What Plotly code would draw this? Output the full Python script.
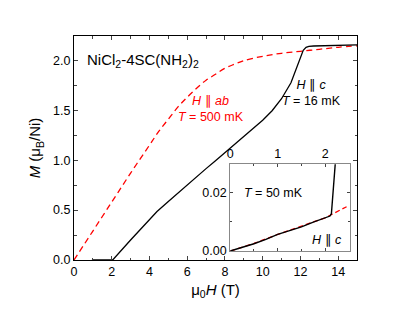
import plotly.graph_objects as go

# Main panel: H || c, T = 16 mK (black solid)
hc_field = [0.95, 2.05, 3.0, 4.0, 4.4, 5.0, 5.5, 6.0, 6.5, 7.0, 7.5, 8.0, 8.5, 9.0, 9.5, 10.0, 10.5, 11.0, 11.5, 11.8, 12.0, 12.15, 12.3, 12.45, 12.7, 13.0, 14.0, 15.0]
hc_mag = [0.0, 0.0, 0.2, 0.41, 0.485, 0.585, 0.67, 0.75, 0.835, 0.915, 0.995, 1.075, 1.155, 1.235, 1.315, 1.4, 1.495, 1.615, 1.775, 1.92, 2.035, 2.1, 2.13, 2.14, 2.143, 2.145, 2.15, 2.155]

# Main panel: H || ab, T = 500 mK (red dashed)
ab_field = [0, 1, 2, 3, 4, 4.5, 5, 5.5, 6, 6.5, 7, 7.5, 8, 8.5, 9, 10, 11, 12, 13, 14, 15]
ab_mag = [0, 0.29, 0.58, 0.87, 1.15, 1.29, 1.41, 1.53, 1.63, 1.72, 1.8, 1.86, 1.92, 1.96, 1.995, 2.04, 2.07, 2.09, 2.11, 2.13, 2.145]

# Inset: T = 50 mK, H || c (black) and linear guide (red dashed)
in_field = [0, 0.25, 0.5, 0.75, 1.0, 1.25, 1.5, 1.75, 2.0, 2.1, 2.13, 2.2, 2.24]
in_mag = [0, 0.0012, 0.0025, 0.004, 0.0057, 0.007, 0.0083, 0.0099, 0.0114, 0.012, 0.0128, 0.0298, 0.036]
in_fit_field = [0, 0.5, 1.0, 1.5, 2.0, 2.45]
in_fit_mag = [0, 0.0026, 0.0057, 0.0085, 0.0114, 0.0152]

fig = go.Figure()
fig.add_trace(go.Scatter(x=ab_field, y=ab_mag, mode="lines",
                         line=dict(color="#ff0000", width=1.3, dash="6px,4px"),
                         line_shape="spline", xaxis="x", yaxis="y"))
fig.add_trace(go.Scatter(x=hc_field, y=hc_mag, mode="lines",
                         line=dict(color="black", width=1.3),
                         xaxis="x", yaxis="y"))
fig.add_trace(go.Scatter(x=in_fit_field, y=in_fit_mag, mode="lines",
                         line=dict(color="#ff0000", width=1.3, dash="5px,3px"),
                         xaxis="x2", yaxis="y2"))
fig.add_trace(go.Scatter(x=in_field, y=in_mag, mode="lines",
                         line=dict(color="black", width=1.4),
                         xaxis="x2", yaxis="y2"))

font_family = "Liberation Sans, Arial, sans-serif"
tickfont = dict(family=font_family, size=12.5, color="black")

fig.update_layout(
    width=415, height=313,
    margin=dict(l=65.5, r=66, t=28, b=61),
    paper_bgcolor="white", plot_bgcolor="white",
    showlegend=False,
    font=dict(family=font_family, color="black"),
    xaxis=dict(range=[0, 15], dtick=2, tick0=0, ticks="inside", ticklen=4,
               showline=True, linecolor="black", linewidth=1, mirror="ticks",
               showgrid=False, zeroline=False, tickfont=tickfont, automargin=False,
               minor=dict(dtick=1, ticks="inside", ticklen=2.5, showgrid=False),
               title=dict(text="μ<sub>0</sub><i>H</i> (T)", font=dict(size=15), standoff=6)),
    yaxis=dict(range=[0, 2.243], dtick=0.5, tick0=0, ticks="inside", ticklen=4,
               tickformat=".1f", automargin=False,
               showline=True, linecolor="black", linewidth=1, mirror="ticks",
               showgrid=False, zeroline=False, tickfont=tickfont,
               minor=dict(dtick=0.25, ticks="inside", ticklen=2.5, showgrid=False),
               title=dict(text="<i>M</i> (μ<sub>B</sub>/Ni)", font=dict(size=15), standoff=8)),
    xaxis2=dict(domain=[0.552, 0.975], anchor="y2", side="top", range=[0, 2.52],
                tickvals=[0, 1, 2], ticktext=["0", "1", "2"], ticks="inside", ticklen=3,
                showline=True, linecolor="#888888", linewidth=1, mirror="ticks",
                showgrid=False, zeroline=False, tickfont=tickfont, automargin=False,
                minor=dict(dtick=0.5, ticks="inside", ticklen=2, showgrid=False)),
    yaxis2=dict(domain=[0.040, 0.428], anchor="x2", range=[0, 0.0298],
                tickvals=[0, 0.02], ticktext=["0.00", "0.02"], ticks="inside", ticklen=3,
                showline=True, linecolor="#888888", linewidth=1, mirror="ticks",
                showgrid=False, zeroline=False, tickfont=tickfont, automargin=False,
                minor=dict(dtick=0.01, ticks="inside", ticklen=2, showgrid=False)),
    annotations=[
        dict(x=0.56, y=2.0, xref="x", yref="y", xanchor="left", yanchor="middle",
             text="NiCl<sub>2</sub>-4SC(NH<sub>2</sub>)<sub>2</sub>", showarrow=False,
             font=dict(size=15, color="black")),
        dict(x=7.27, y=1.51, xref="x", yref="y", xanchor="center", yanchor="middle",
             text="<i>H</i> ∥ <i>ab</i><br><i>T</i> = 500 mK", showarrow=False,
             font=dict(size=12.5, color="#ff0000")),
        dict(x=12.57, y=1.675, xref="x", yref="y", xanchor="center", yanchor="middle",
             text="<i>H</i> ∥ <i>c</i><br><i>T</i> = 16 mK", showarrow=False,
             font=dict(size=12.5, color="black")),
        dict(x=0.92, y=0.0198, xref="x2", yref="y2", xanchor="center", yanchor="middle",
             text="<i>T</i> = 50 mK", showarrow=False,
             font=dict(size=12.5, color="black")),
        dict(x=2.03, y=0.0038, xref="x2", yref="y2", xanchor="center", yanchor="middle",
             text="<i>H</i> ∥ <i>c</i>", showarrow=False,
             font=dict(size=12.5, color="black")),
    ],
)

fig.write_html("out.html")
